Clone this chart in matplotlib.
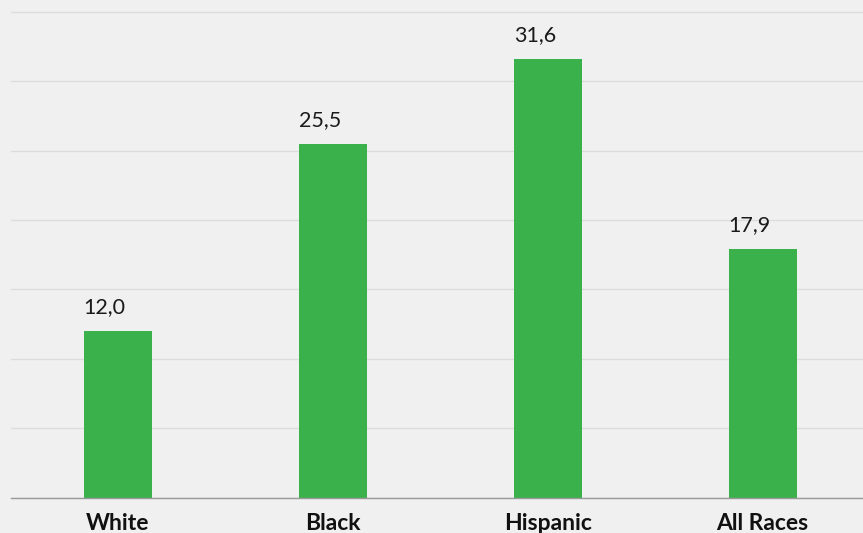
import matplotlib.pyplot as plt

categories = ['White', 'Black', 'Hispanic', 'All Races']
values = [12.0, 25.5, 31.6, 17.9]
labels = ['12,0', '25,5', '31,6', '17,9']

plt.rcParams['font.family'] = ['Lato', 'DejaVu Sans']

fig = plt.figure(figsize=(8.63, 5.33), dpi=100, facecolor='#f0f0f0')
ax = fig.add_axes([11/863, 35.5/533, 852/863, 497.5/533])
ax.set_facecolor('#f0f0f0')

w = 0.316
x = list(range(len(categories)))
ax.bar(x, values, width=w, color='#3bb14b', zorder=3)

for xi, v, lab in zip(x, values, labels):
    ax.annotate(lab, (xi - w/2, v), xytext=(0, 10), textcoords='offset points',
                ha='left', va='bottom', fontsize=15.5, color='#1a1a1a')

ax.set_xlim(-0.496, 3.467)
ax.set_ylim(0, 35.85)
ax.set_yticks(range(0, 36, 5))
ax.yaxis.grid(True, color='#dcdcdc', lw=1, zorder=0)
ax.tick_params(axis='y', left=False, labelleft=False)
ax.set_xticks(x)
ax.set_xticklabels(categories, fontsize=16.5, fontweight='bold', color='#111111')
ax.tick_params(axis='x', length=0, pad=11)
for s in ['top', 'right', 'left']:
    ax.spines[s].set_visible(False)
ax.spines['bottom'].set_color('#999999')
ax.spines['bottom'].set_linewidth(1)
ax.spines['bottom'].set_zorder(4)

fig.savefig('out.png', dpi=100, facecolor='#f0f0f0')
